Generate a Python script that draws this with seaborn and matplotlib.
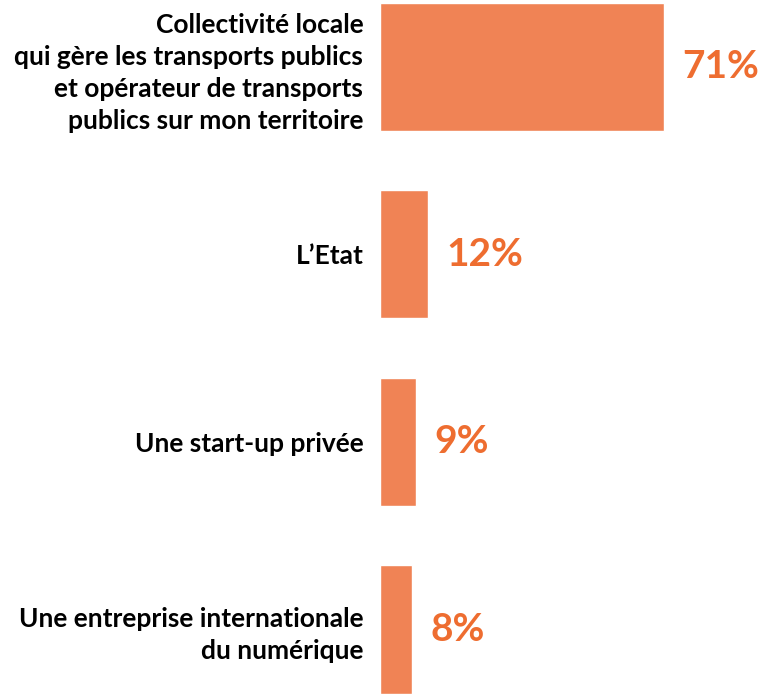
import matplotlib
matplotlib.use("Agg")
import matplotlib.pyplot as plt
import seaborn as sns
import pandas as pd

categories = [
    "Collectivité locale\nqui gère les transports publics\net opérateur de transports\npublics sur mon territoire",
    "L’Etat",
    "Une start-up privée",
    "Une entreprise internationale\ndu numérique",
]
values = [71, 12, 9, 8]
value_labels = ["71%", "12%", "9%", "8%"]

sns.set_style("white")
plt.rcParams['font.family'] = ['Lato', 'DejaVu Sans']

df = pd.DataFrame({"cat": categories, "val": values})

fig = plt.figure(figsize=(7.65, 6.94), dpi=100)
ax = fig.add_axes([380/765, 0, 1 - 380/765, 1])
sns.barplot(data=df, x="val", y="cat", orient="h", color="#F08355",
            saturation=1, width=0.683, ax=ax)
ax.set_xlim(0, 96.25)
ax.set_ylim(3.344, -0.357)
ax.set_xlabel("")
ax.set_ylabel("")
ax.set_xticks([])
for s in ax.spines.values():
    s.set_visible(False)
ax.tick_params(axis="y", length=0, pad=12)
for t in ax.get_yticklabels():
    t.set_fontsize(19)
    t.set_fontweight("bold")
    t.set_color("black")
    t.set_linespacing(1.4)

for p, lab in zip(ax.patches, value_labels):
    w = p.get_width()
    y = p.get_y() + p.get_height() / 2
    ax.annotate(lab, (w, y), xytext=(13, 0), textcoords="offset points",
                ha="left", va="center", fontsize=28, fontweight="bold",
                color="#EE6D30")

fig.savefig("out.png", dpi=100)
